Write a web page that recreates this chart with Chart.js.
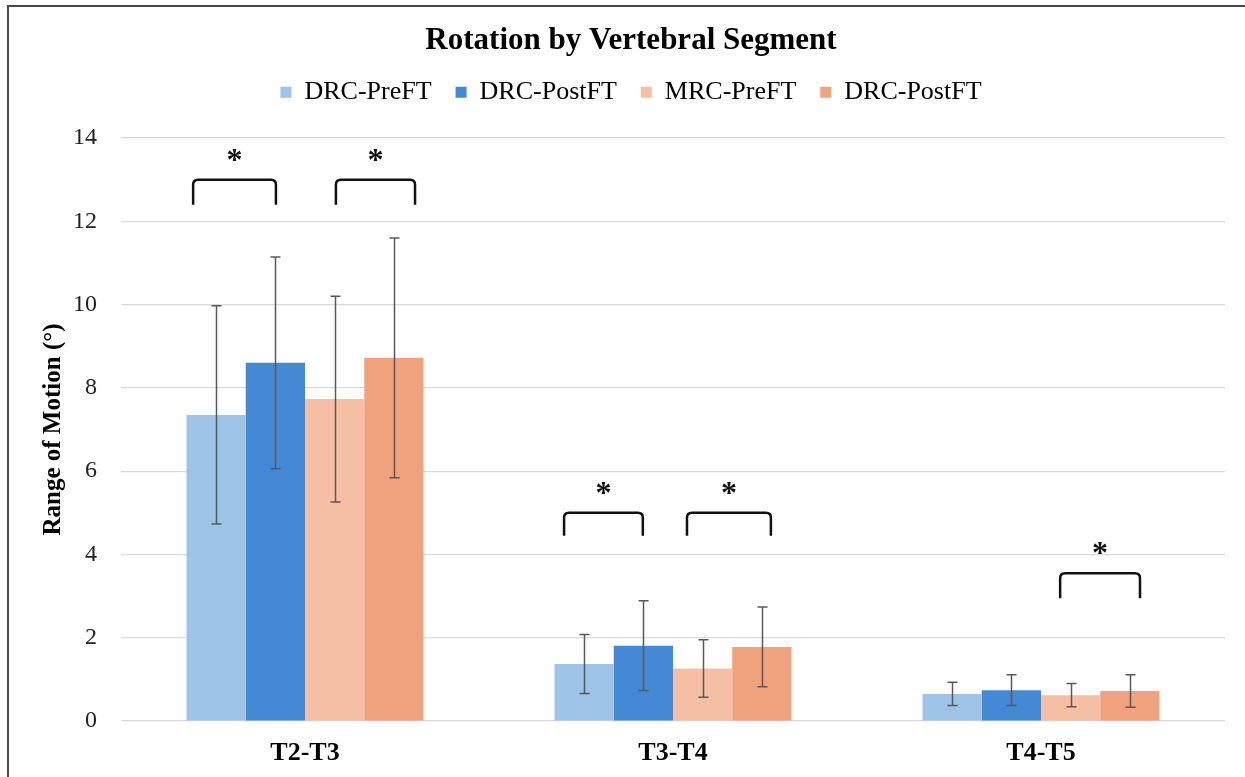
<!DOCTYPE html>
<html>
<head>
<meta charset="utf-8">
<script src="https://cdn.jsdelivr.net/npm/chart.js@4.4.1/dist/chart.umd.min.js"></script>
<style>
  html, body { margin: 0; padding: 0; background: #fff; }
  #wrap { position: relative; width: 1245px; height: 777px; overflow: hidden; }
  #frame { position: absolute; left: 7px; top: 5px; width: 1300px; height: 900px;
           border-top: 2px solid #4a4a4a; border-left: 2px solid #4a4a4a; pointer-events: none; }
  canvas { position: absolute; left: 0; top: 0; }
</style>
</head>
<body>
<div id="wrap">
  <canvas id="rom_chart" width="1245" height="777"></canvas>
  <div id="frame"></div>
</div>
<script>
// segments on the x axis
const segments = ['T2-T3', 'T3-T4', 'T4-T5'];

// mean range of motion (deg) per group
const drcPre   = [7.35, 1.37, 0.65];
const drcPost  = [8.60, 1.81, 0.74];
const mrcPre   = [7.73, 1.26, 0.62];
const mrcPost  = [8.72, 1.78, 0.72];

// standard deviations (error bars)
const drcPreSd  = [2.62, 0.71, 0.28];
const drcPostSd = [2.54, 1.08, 0.37];
const mrcPreSd  = [2.47, 0.69, 0.28];
const mrcPostSd = [2.88, 0.96, 0.39];

// significance brackets: x in category units, top and leg end in degrees
const sigFrom = [-0.304, 0.084, 0.704, 1.038, 2.052];
const sigTo   = [-0.079, 0.299, 0.918, 1.266, 2.269];
const sigTop  = [13.0, 13.0, 5.0, 5.0, 3.55];
const sigLeg  = [12.4, 12.4, 4.45, 4.45, 2.95];

const serif = "'Liberation Serif', 'Times New Roman', serif";

// draws the +/- sd whiskers on each bar
const errorBars = {
    id: 'errorBars',
    afterDatasetsDraw(chart){
        const ctx = chart.ctx;
        const y = chart.scales.y;
        ctx.save();
        ctx.strokeStyle = '#595959';
        ctx.lineWidth = 1.5;
        chart.data.datasets.forEach(function(ds, i){
            const meta = chart.getDatasetMeta(i);
            meta.data.forEach(function(bar, j){
                const v = ds.data[j], sd = ds.sd[j];
                const yt = y.getPixelForValue(v + sd);
                const yb = y.getPixelForValue(v - sd);
                const x = Math.round(bar.x) + 0.5;
                ctx.beginPath();
                ctx.moveTo(x, yt); ctx.lineTo(x, yb);
                ctx.moveTo(x - 5, yt); ctx.lineTo(x + 5, yt);
                ctx.moveTo(x - 5, yb); ctx.lineTo(x + 5, yb);
                ctx.stroke();
            });
        });
        ctx.restore();
    }
};

// draws the significance brackets and asterisks
const sigBrackets = {
    id: 'sigBrackets',
    afterDatasetsDraw(chart){
        const ctx = chart.ctx;
        const xs = chart.scales.x, ys = chart.scales.y;
        ctx.save();
        ctx.strokeStyle = '#111';
        ctx.lineWidth = 2.5;
        ctx.lineJoin = 'round';
        ctx.fillStyle = '#111';
        ctx.font = 'bold 32px ' + serif;
        ctx.textAlign = 'center';
        ctx.textBaseline = 'alphabetic';
        for(let k = 0; k < sigFrom.length; k++){
            const x1 = xs.getPixelForValue(sigFrom[k]);
            const x2 = xs.getPixelForValue(sigTo[k]);
            const yt = ys.getPixelForValue(sigTop[k]);
            const yl = ys.getPixelForValue(sigLeg[k]);
            const r = 5;
            ctx.beginPath();
            ctx.moveTo(x1, yl);
            ctx.lineTo(x1, yt + r);
            ctx.quadraticCurveTo(x1, yt, x1 + r, yt);
            ctx.lineTo(x2 - r, yt);
            ctx.quadraticCurveTo(x2, yt, x2, yt + r);
            ctx.lineTo(x2, yl);
            ctx.stroke();
            ctx.fillText('*', (x1 + x2) / 2, yt - 10);
        }
        ctx.restore();
    }
};

function initRomChart(){
    const ctx = document.getElementById('rom_chart').getContext('2d');
    const chart = new Chart(ctx, {
        type: 'bar',
        data: {
            labels: segments,
            datasets: [
                { label: 'DRC-PreFT',  data: drcPre,  sd: drcPreSd,  backgroundColor: '#9dc3e6' },
                { label: 'DRC-PostFT', data: drcPost, sd: drcPostSd, backgroundColor: '#4489d5' },
                { label: 'MRC-PreFT',  data: mrcPre,  sd: mrcPreSd,  backgroundColor: '#f4bfa3' },
                { label: 'DRC-PostFT', data: mrcPost, sd: mrcPostSd, backgroundColor: '#efa27b' }
            ]
        },
        options: {
            responsive: false,
            animation: false,
            layout: { padding: { left: 37, right: 20, top: 0, bottom: 11 } },
            datasets: { bar: { categoryPercentage: 0.644, barPercentage: 1.0 } },
            plugins: {
                title: {
                    display: true,
                    text: 'Rotation by Vertebral Segment',
                    color: '#000',
                    font: { family: serif, size: 31, weight: 'bold' },
                    padding: { top: 22, bottom: -4 }
                },
                legend: {
                    position: 'top',
                    labels: {
                        color: '#000',
                        font: { family: serif, size: 26 },
                        boxWidth: 11,
                        boxHeight: 11,
                        padding: 24
                    }
                },
                // empty spacer between the legend and the plot
                subtitle: {
                    display: true,
                    text: '',
                    weight: 500,
                    font: { size: 1 },
                    padding: { top: 21.6, bottom: 0 }
                },
                tooltip: { enabled: false }
            },
            scales: {
                x: {
                    afterFit(scale){ scale.height = 45; },
                    grid: { display: false, drawTicks: false },
                    border: { display: false },
                    ticks: { color: '#000', font: { family: serif, size: 26, weight: 'bold' }, padding: 17 }
                },
                y: {
                    min: 0,
                    max: 14,
                    afterFit(scale){ scale.width = 84; },
                    grid: { color: '#d9d9d9', lineWidth: 1.2, drawTicks: false },
                    border: { display: false },
                    ticks: { stepSize: 2, color: '#222', font: { family: serif, size: 24 }, padding: 24 },
                    title: {
                        display: true,
                        text: 'Range of Motion (°)',
                        color: '#000',
                        font: { family: serif, size: 25, weight: 'bold' },
                        padding: { top: 2, bottom: 6 }
                    }
                }
            }
        },
        plugins: [errorBars, sigBrackets]
    });
}

initRomChart();
</script>
</body>
</html>
